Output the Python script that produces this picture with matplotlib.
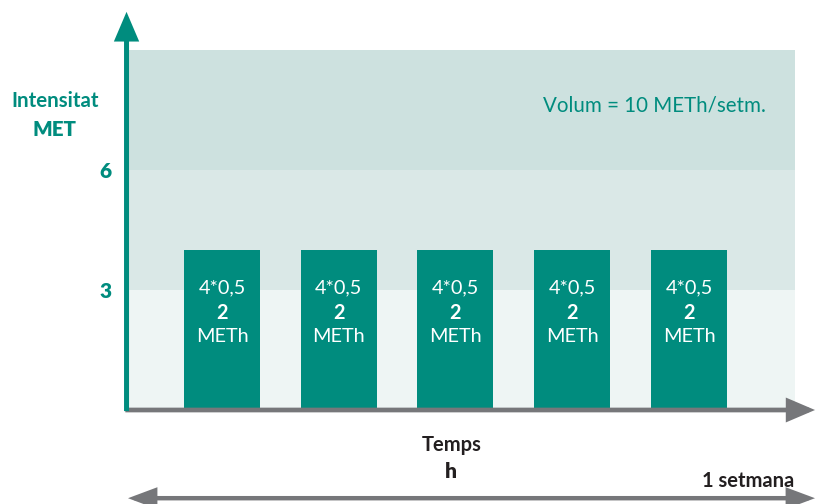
import matplotlib.pyplot as plt
import matplotlib

matplotlib.rcParams['font.family'] = ['Lato', 'DejaVu Sans']

# dades: 5 sessions setmanals de 4 MET
sessions = [0, 1, 2, 3, 4]
intensitat = [4, 4, 4, 4, 4]
durada = ['4*0,5'] * 5
meth = [2, 2, 2, 2, 2]
volum_total = 10

# franges d'intensitat (MET)
franges = [(0, 3), (3, 6), (6, 9)]
colors_franges = ['#EEF5F4', '#DAE8E7', '#CDE1DF']
ticks_y = [3, 6]

verd = '#008C7E'
gris = '#76777A'
fosc = '#231F20'

W, H = 819, 504
fig = plt.figure(figsize=(W / 100, H / 100), dpi=100)
ax = fig.add_axes([128 / W, (H - 410) / H, (795 - 128) / W, 360 / H])

for (a, b), c in zip(franges, colors_franges):
    ax.axhspan(a, b, color=c, lw=0, zorder=0)

ax.bar(sessions, intensitat, width=0.651, color=verd, zorder=2)
for x, d, m in zip(sessions, durada, meth):
    ax.text(x, 3.05, d, ha='center', va='center', color='white', fontsize=14.3, zorder=3)
    ax.text(x, 2.42, str(m), ha='center', va='center', color='white', fontsize=14.3,
            fontweight='bold', zorder=3)
    ax.text(x, 1.85, 'METh', ha='center', va='center', color='white', fontsize=14.3, zorder=3)

ax.set_xlim(-0.805, 4.908)
ax.set_ylim(0, 9)
ax.set_xticks([])
ax.set_yticks(ticks_y)
ax.set_yticklabels([str(t) for t in ticks_y], color=verd, fontsize=15, fontweight='heavy')
ax.tick_params(axis='y', length=0, pad=12)
for s in ax.spines.values():
    s.set_visible(False)

# eixos amb fletxa
estil = dict(mutation_scale=20, shrinkA=0, shrinkB=0, capstyle='butt', joinstyle='miter')
ax.annotate('', xy=(1.030, 0), xytext=(-0.004, 0), xycoords='axes fraction',
            arrowprops=dict(arrowstyle='-|>,head_length=0.75,head_width=0.32',
                            color=gris, lw=3.4, **estil), zorder=4)
ax.annotate('', xy=(-0.0022, 1.106), xytext=(-0.0022, -0.003), xycoords='axes fraction',
            arrowprops=dict(arrowstyle='-|>,head_length=0.75,head_width=0.32',
                            color=verd, lw=3.6, **estil), zorder=5)
ax.annotate('', xy=(1.030, -0.245), xytext=(0.0, -0.245), xycoords='axes fraction',
            arrowprops=dict(arrowstyle='<|-|>,head_length=0.75,head_width=0.28',
                            color=gris, lw=3.2, **estil))

ax.text(0.957, 0.845, f'Volum = {volum_total} METh/setm.', transform=ax.transAxes,
        ha='right', va='center', color=verd, fontsize=14.8)

fig.text(55 / W, 1 - 101 / H, 'Intensitat', ha='center', va='center', color=verd,
         fontsize=14.8, fontweight='bold')
fig.text(54 / W, 1 - 129 / H, 'MET', ha='center', va='center', color=verd,
         fontsize=14.8, fontweight='heavy')
fig.text(452 / W, 1 - 445 / H, 'Temps', ha='center', va='center', color=fosc,
         fontsize=14.5, fontweight='bold')
fig.text(451 / W, 1 - 472 / H, 'h', ha='center', va='center', color=fosc,
         fontsize=15, fontweight='heavy')
fig.text(794 / W, 1 - 481 / H, '1 setmana', ha='right', va='center', color=fosc,
         fontsize=14.5, fontweight='bold')

fig.savefig('out.png', dpi=100)
